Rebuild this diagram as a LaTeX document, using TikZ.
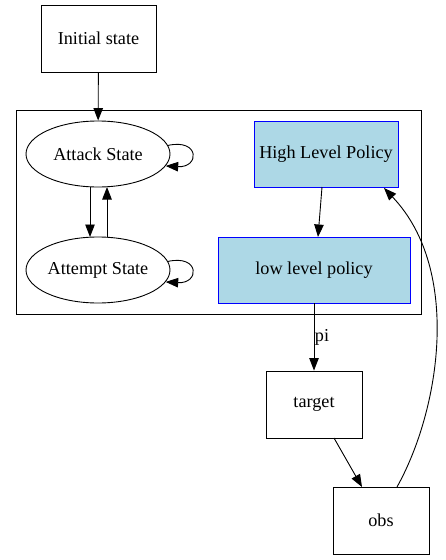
\documentclass[tikz,border=0pt]{standalone}
\usepackage{fontspec}
\setmainfont{Liberation Serif}
\usetikzlibrary{shapes.geometric,arrows.meta}
\definecolor{lblue}{HTML}{ADD8E6}
\begin{document}
\begin{tikzpicture}[x=1pt,y=-1pt,
  every node/.style={font=\fontsize{18.2}{22}\selectfont, inner sep=0pt},
  box/.style={draw, rectangle, line width=0.9pt},
  pol/.style={draw=blue, fill=lblue, rectangle, line width=0.9pt},
  ell/.style={draw, ellipse, line width=0.9pt, minimum width=144pt, minimum height=66pt},
  edge/.style={draw, line width=0.9pt, -{Triangle[length=12.5pt,width=9.5pt]}},
  clusterbox/.style={draw, line width=0.9pt}]
\useasboundingbox (0,0) rectangle (445,560);
\draw[clusterbox] (16,110) rectangle (421,314);
\node[box, minimum width=115pt, minimum height=67pt] (init) at (98.5,38.5) {Initial state};
\node[ell] (as) at (98,154) {Attack State};
\node[ell] (ts) at (98,270) {Attempt State};
\node[pol, minimum width=144pt, minimum height=66pt] (hlp) at (326,154) {High Level Policy};
\node[pol, minimum width=192pt, minimum height=66pt] (llp) at (314,270) {low level policy};
\node[box, minimum width=96pt, minimum height=67pt] (tgt) at (314,404.5) {target};
\node[box, minimum width=96pt, minimum height=67pt] (obs) at (381,520.5) {obs};
\coordinate (a1) at (90,187);
\coordinate (a2) at (90,237);
\coordinate (b1) at (107,237);
\coordinate (b2) at (107,187);
\coordinate (h1) at (322,187);
\coordinate (h2) at (318,237);
\coordinate (t1) at (334,438);
\coordinate (t2) at (362,487);
\coordinate (o1) at (397,487);
\coordinate (o2) at (384,188);
\path[edge] (init) -- (as);
\path[edge] (a1) -- (a2);
\path[edge] (b1) -- (b2);
\path[edge] (as.7) .. controls +(32,-7) and +(34,2) .. (as.-10);
\path[edge] (ts.7) .. controls +(32,-7) and +(34,2) .. (ts.-10);
\path[edge] (h1) -- (h2);
\path[edge] (llp.south) -- node[right=0.5pt, pos=0.5] {pi} (tgt.north);
\path[edge] (t1) -- (t2);
\path[edge] (o1) .. controls (440,410) and (462,270) .. (o2);
\end{tikzpicture}
\end{document}
